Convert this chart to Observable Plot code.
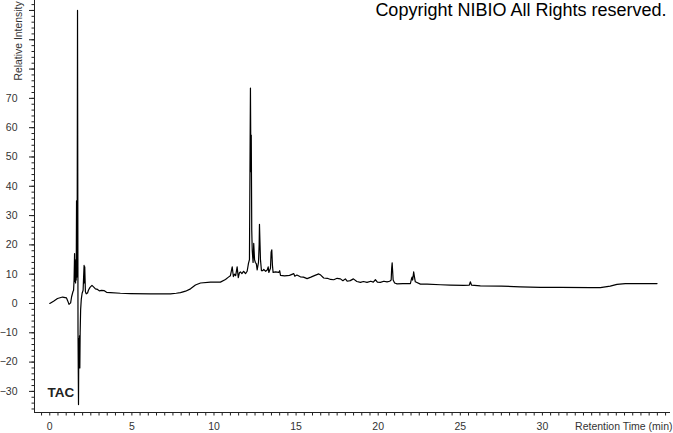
<!DOCTYPE html>
<html><head><meta charset="utf-8">
<script src="https://cdn.jsdelivr.net/npm/d3@7"></script>
<script src="https://cdn.jsdelivr.net/npm/@observablehq/plot@0.6"></script>
<style>body{margin:0;background:#fff} svg{display:block}</style>
</head><body><div id="chart"></div>
<script>
const retentionTime = [
  0, 0.23, 0.47, 0.78, 1.02, 1.10, 1.17, 1.27, 1.33, 1.41, 1.45, 1.48, 1.51, 1.53, 1.55, 1.57, 1.59, 1.61, 1.63, 1.65, 1.67, 1.69,
  1.72, 1.75, 1.77, 1.79, 1.81, 1.83, 1.85, 1.88, 1.92, 1.97, 2.03, 2.06, 2.09, 2.11, 2.13, 2.17, 2.22, 2.30, 2.36, 2.45, 2.57,
  2.68, 2.78, 2.91, 3.02, 3.15, 3.30, 3.46, 3.70, 4.3, 4.92, 6.14, 7.35, 7.70, 7.96, 8.27, 8.57, 8.87, 9.18, 9.79, 10.39, 10.70,
  10.88, 11.0, 11.11, 11.18, 11.25, 11.32, 11.41, 11.48, 11.55, 11.61, 11.70, 11.80, 11.92, 12.02, 12.10, 12.16, 12.19, 12.22,
  12.25, 12.27, 12.30, 12.33, 12.38, 12.42, 12.47, 12.52, 12.58, 12.63, 12.71, 12.75, 12.77, 12.80, 12.83, 12.89, 12.97, 13.03,
  13.15, 13.24, 13.30, 13.34, 13.44, 13.48, 13.52, 13.56, 13.60, 13.75, 13.94, 14.0, 14.05, 14.3, 14.6, 14.86, 14.92, 15.05,
  15.26, 15.45, 15.67, 15.9, 16.15, 16.38, 16.5, 16.68, 16.9, 17.1, 17.29, 17.5, 17.70, 17.85, 18.0, 18.11, 18.3, 18.49, 18.7,
  18.92, 19.1, 19.32, 19.55, 19.70, 19.83, 19.95, 20.13, 20.35, 20.54, 20.70, 20.79, 20.82, 20.85, 20.88, 20.91, 21.0, 21.15,
  21.5, 21.96, 22.03, 22.06, 22.10, 22.16, 22.21, 22.26, 22.57, 22.98, 23.79, 24.39, 25.2, 25.55, 25.61, 25.68, 26.22, 27.5,
  28.65, 29.87, 31.09, 32.92, 33.53, 34.13, 34.54, 35.05, 36.98
];
const relativeIntensity = [
  0, 0.8, 1.7, 2.2, 1.9, 0.8, -0.3, 0.2, 2.3, 4.0, 4.5, 8, 17, 7.5, 14, 7, 15, 8, 35, 9, 30, 100,
  -10, -34.5, -12, -22, -11, -22, -10, -2, 1.5, 3.5, 4.5, 9, 13, 7, 12.5, 4, 3.3, 3.6, 4.6, 5.5, 6.2,
  5.6, 5.0, 4.8, 4.3, 4.5, 4.4, 3.8, 3.7, 3.5, 3.4, 3.3, 3.3, 3.5, 3.7, 4.2, 5.0, 6.3, 7.0, 7.3, 7.3, 8.2,
  9.0, 9.5, 12.5, 9.2, 10.0, 9.5, 12.5, 8.8, 10.5, 10.8, 10.2, 11.0, 10.2, 11, 13.7, 15, 45, 73.5,
  45, 57.5, 25, 18, 14, 20.5, 15, 14, 13.5, 11.5, 14, 20, 27, 21, 15, 11.2, 11.2, 11.6,
  11, 11.4, 12.5, 10.6, 12, 17.5, 18.3, 13, 10.6, 10.8, 10.6, 11.2, 9.6, 9.4, 9.6, 10.2, 9.3, 9.7,
  9.1, 9.0, 8.5, 9.0, 9.6, 10.1, 9.7, 8.7, 8.6, 8.2, 8.1, 8.6, 8.4, 7.8, 8.4, 7.6, 7.8, 8.4, 7.5,
  7.2, 7.5, 7.2, 7.6, 7.3, 8.1, 7.3, 7.2, 7.6, 7.4, 7.6, 8.0, 12, 13.9, 11, 8.0, 7.0, 6.7,
  6.8, 6.8, 8.5, 9.0, 8.0, 10.8, 9.0, 7.4, 6.6, 6.6, 6.4, 6.3, 6.2, 6.3, 7.4, 6.3, 6.0, 5.9,
  5.7, 5.5, 5.5, 5.4, 5.4, 5.9, 6.5, 6.8, 6.8
];
const xTickLabels = [0, 5, 10, 15, 20, 25, 30];
const yTickLabels = [-30, -20, -10, 0, 10, 20, 30, 40, 50, 60, 70];
const xMinorTicks = d3.range(-0.5, 38, 0.5);
const yMajorTicks = d3.range(-30, 101, 10);
const yMinorTicks = d3.range(-36, 104, 2);
const xDomain = [-0.93, 37.8];
const yDomain = [-37.2, 103.4];
const xTitle = "Retention Time (min)";
const yTitle = "Relative Intensity";
const traceLabel = "TAC";
const copyright = "Copyright NIBIO All Rights reserved.";

const trace = retentionTime.map((t, i) => ({t, v: relativeIntensity[i]}));
const font = "'Liberation Sans', Arial, sans-serif";

const chart = Plot.plot({
  width: 673,
  height: 433,
  marginLeft: 34,
  marginTop: 0,
  marginRight: 3,
  marginBottom: 21,
  x: {domain: xDomain, label: null},
  y: {domain: yDomain, label: null},
  style: {fontFamily: font, background: "white", color: "#333"},
  marks: [
    Plot.axisX(xMinorTicks, {tickSize: 3.5, tickFormat: () => "", stroke: "#222", label: null}),
    Plot.axisX(xTickLabels, {tickSize: 0, tickPadding: 10.5, fontSize: 10.5, fill: "#333", label: null}),
    Plot.axisY(yMinorTicks, {tickSize: 2.5, tickFormat: () => "", stroke: "#222", label: null}),
    Plot.axisY(yMajorTicks, {tickSize: 5, tickFormat: () => "", stroke: "#222", label: null}),
    Plot.axisY(yTickLabels, {tickSize: 0, tickPadding: 17, fontSize: 10.5, fill: "#333", label: null}),
    Plot.ruleX([xDomain[0]], {stroke: "#222"}),
    Plot.ruleY([yDomain[0]], {stroke: "#222"}),
    Plot.line(trace, {x: "t", y: "v", stroke: "black", strokeWidth: 1.2}),
    Plot.text([xTitle], {frameAnchor: "bottom-right", textAnchor: "end", lineAnchor: "middle", dx: 2, dy: 14.5, fontSize: 10.5, fill: "#333"}),
    Plot.text([yTitle], {frameAnchor: "top-left", textAnchor: "start", lineAnchor: "middle", rotate: -90, dx: -15.5, dy: 80, fontSize: 10.4, fill: "#333"}),
    Plot.text([traceLabel], {frameAnchor: "bottom-left", textAnchor: "start", lineAnchor: "middle", dx: 13, dy: -19.5, fontSize: 13.5, fontWeight: "bold", fill: "#222"}),
    Plot.text([copyright], {frameAnchor: "top-right", textAnchor: "end", lineAnchor: "top", dx: -4, dy: 3, fontSize: 18, fill: "black"})
  ]
});
document.getElementById("chart").append(chart);
</script>
</body></html>
